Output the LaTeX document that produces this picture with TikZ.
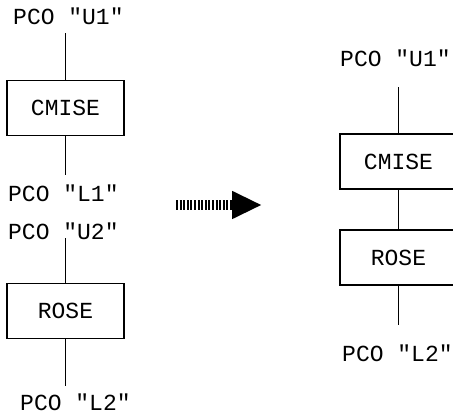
\documentclass[tikz,border=0pt]{standalone}
\usepackage{fontspec}
\newfontfamily\pcofont{Liberation Mono}
\usetikzlibrary{arrows.meta}
\tikzset{
  lbl/.style={inner sep=0pt, font=\pcofont\fontsize{23}{27}\selectfont},
  blk/.style={draw, line width=1.6pt, minimum width=117pt, minimum height=55pt,
    inner sep=0pt, font=\pcofont\fontsize{23}{27}\selectfont},
  wire/.style={line width=1.3pt}
}
\begin{document}
\begin{tikzpicture}[x=1pt, y=-1pt]
        \useasboundingbox (0,0) rectangle (453,414);

        % ==========================================
        % Antes: dos bloques separados
        % ==========================================
        \node[lbl, anchor=base west] (u1) at (13,25) {PCO "U1"};
        \node[blk] (cmise) at (65.5,108) {CMISE};
        \node[lbl, anchor=base west] (l1) at (8,202) {PCO "L1"};

        \node[lbl, anchor=base west] (u2) at (8,240) {PCO "U2"};
        \node[blk] (rose) at (65.5,311) {ROSE};
        \node[lbl, anchor=base west] (l2) at (20,410) {PCO "L2"};

        \draw[wire, shorten >=8pt] (cmise.north) -- (cmise.north |- u1.south);
        \draw[wire, shorten >=10pt] (cmise.south) -- (cmise.south |- l1.north);
        \draw[wire, shorten >=-2pt] (rose.north) -- (rose.north |- u2.south);
        \draw[wire, shorten >=7pt] (rose.south) -- (rose.south |- l2.north);

        % Flecha
        \draw[line width=10pt, dash pattern=on 2pt off 1.6pt,
          -{Triangle[length=30pt, width=26pt]}] (176,205) -- (262,205);

        % ==========================================
        % Despues: bloques encadenados
        % ==========================================
        \node[lbl, anchor=base west] (ru1) at (340,67) {PCO "U1"};
        \node[blk] (rcmise) at (398.5,161.5) {CMISE};
        \node[blk] (rrose) at (398.5,257.5) {ROSE};
        \node[lbl, anchor=base west] (rl2) at (342,362) {PCO "L2"};

        \draw[wire, shorten >=20pt] (rcmise.north) -- (rcmise.north |- ru1.south);
        \draw[wire] (rcmise) -- (rrose);
        \draw[wire, shorten >=20pt] (rrose.south) -- (rrose.south |- rl2.north);

    \end{tikzpicture}
\end{document}
